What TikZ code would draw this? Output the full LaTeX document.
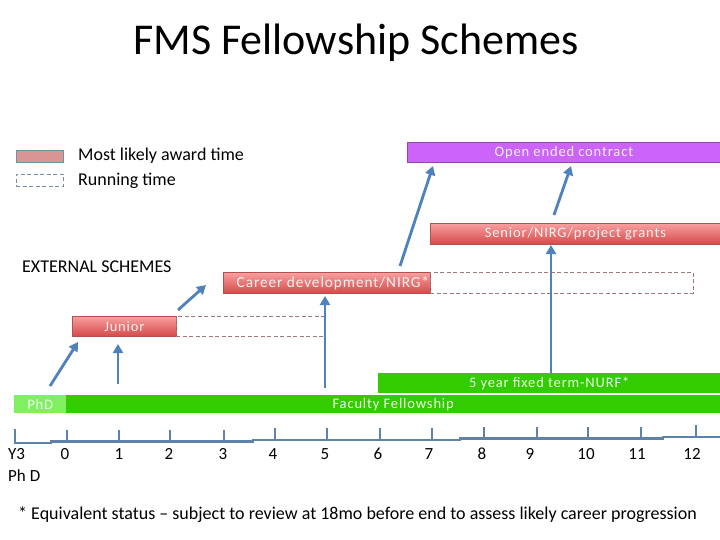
\documentclass[tikz,border=0pt]{standalone}
\usepackage{fontspec}
\setmainfont{Carlito}
\newfontfamily\barfont[LetterSpace=6]{Carlito}
\usetikzlibrary{arrows.meta}
\definecolor{arrowblue}{RGB}{79,129,189}
\definecolor{purplebar}{RGB}{204,100,250}
\definecolor{purpleedge}{RGB}{150,70,180}
\definecolor{redtop}{RGB}{248,160,160}
\definecolor{redbot}{RGB}{214,72,72}
\definecolor{rededge}{RGB}{180,80,80}
\definecolor{greenbar}{RGB}{51,204,0}
\definecolor{lightgreen}{RGB}{128,240,96}
\definecolor{dashred}{RGB}{160,120,120}
\definecolor{dashblue}{RGB}{120,140,165}
\definecolor{legpink}{RGB}{217,149,148}
\definecolor{axisblue}{RGB}{95,130,170}
\begin{document}
\begin{tikzpicture}[x=1pt,y=-1pt,
  bar/.style={anchor=north west, inner sep=0pt, font=\barfont\fontsize{14.5}{16}\selectfont, text=white!95!black},
  redbar/.style={bar, draw=rededge, line width=0.8pt, top color=redtop, bottom color=redbot},
  grnbar/.style={bar, fill=greenbar, text=white!92!green},
  runbox/.style={draw=dashred, dashed, line width=0.8pt, dash pattern=on 4pt off 2.5pt},
  conn/.style={draw=arrowblue, line width=2.8pt, -{Triangle[length=9pt,width=10pt]}},
  axis/.style={draw=axisblue, line width=2.5pt},
  lbl/.style={font=\fontsize{17}{19}\selectfont},
  txt/.style={font=\fontsize{18}{21}\selectfont, anchor=west, inner sep=0pt}
]
\useasboundingbox (0,0) rectangle (720,540);
\fill[white] (0,0) rectangle (720,540);

% title
\node[font=\fontsize{44}{50}\selectfont] (title) at (356,43) {FMS Fellowship Schemes};

% legend
\node[draw=dashblue, fill=legpink, line width=0.8pt, minimum width=47pt, minimum height=12pt, inner sep=0pt, anchor=north west] (legaward) at (16,150) {};
\node[draw=dashblue, dashed, line width=0.8pt, dash pattern=on 4pt off 2.5pt, minimum width=47pt, minimum height=12pt, inner sep=0pt, anchor=north west] (legrun) at (16,174) {};
\node[txt] (legawardtxt) at (78,156) {Most likely award time};
\node[txt] (legruntxt) at (78,181) {Running time};

\node[txt] (ext) at (22,267) {EXTERNAL SCHEMES};

% bars
\node[bar, draw=purpleedge, line width=0.8pt, fill=purplebar, minimum width=313pt, minimum height=20pt] (open) at (407,142) {Open ended contract};
\node[redbar, minimum width=290pt, minimum height=21pt] (senior) at (430,223) {Senior/NIRG/project grants};
\node[redbar, minimum width=207pt, minimum height=21pt, font=\barfont\fontsize{15.3}{17}\selectfont] (career) at (223,272) {\hspace*{12pt}Career development/NIRG*};
\node[runbox, anchor=north west, minimum width=263pt, minimum height=21pt, inner sep=0pt] (careerrun) at (430,272) {};
\node[redbar, minimum width=104pt, minimum height=20pt] (junior) at (72,316) {Junior};
\node[runbox, anchor=north west, minimum width=149pt, minimum height=20pt, inner sep=0pt] (juniorrun) at (176,316) {};
\node[grnbar, minimum width=342pt, minimum height=20pt] (nurf) at (378,373) {5 year fixed term-NURF*};
\node[grnbar, minimum width=654pt, minimum height=18pt] (faculty) at (66,395) {Faculty Fellowship};
\node[bar, fill=lightgreen, minimum width=52pt, minimum height=18pt, text=white!95!green] (phd) at (14,395) {PhD};

% arrows
\coordinate (a1s) at (50,386);  \coordinate (a1e) at (78,342);
\coordinate (a2s) at (118,384); \coordinate (a2e) at (118,344);
\coordinate (a3s) at (178,310); \coordinate (a3e) at (206,285);
\coordinate (a4s) at (325,388); \coordinate (a4e) at (325,296);
\coordinate (a5s) at (400,266); \coordinate (a5e) at (433,166);
\coordinate (a6s) at (551,373); \coordinate (a6e) at (551,245);
\coordinate (a7s) at (554,215); \coordinate (a7e) at (571,166);
\draw[conn] (a1s) -- (a1e);
\draw[conn] (a2s) -- (a2e);
\draw[conn] (a3s) -- (a3e);
\draw[conn] (a4s) -- (a4e);
\draw[conn] (a5s) -- (a5e);
\draw[conn] (a6s) -- (a6e);
\draw[conn] (a7s) -- (a7e);

% timeline
\draw[axis] (15,429) -- (15,443) -- (51,443) -- (51,441.5) -- (253,441.5) -- (253,440) -- (460,440) -- (460,438.5) -- (663,438.5) -- (663,437) -- (720,437);
\foreach \x/\y in {67/441.5,119/441.5,170/441.5,224/441.5,275/440,327/440,380/440,432/440,484/438.5,537/438.5,588/438.5,641/438.5,696/437}
  \draw[axis] (\x,\y) -- (\x,\y-12);

% axis labels
\node[lbl, anchor=west, inner sep=0pt] (ly3) at (8,454) {Y3};
\node[lbl, anchor=west, inner sep=0pt] (lphd) at (8,476) {Ph D};
\foreach \x/\t in {65/0,119/1,169/2,223/3,273/4,325/5,378/6,429/7,482/8,530/9,586/10,637/11,692/12}
  \node[lbl] (l\t) at (\x,454) {\t};

% footnote
\node[txt] (foot) at (18,515) {* Equivalent status -- subject to review at 18mo before end to assess likely career progression};
\end{tikzpicture}
\end{document}
